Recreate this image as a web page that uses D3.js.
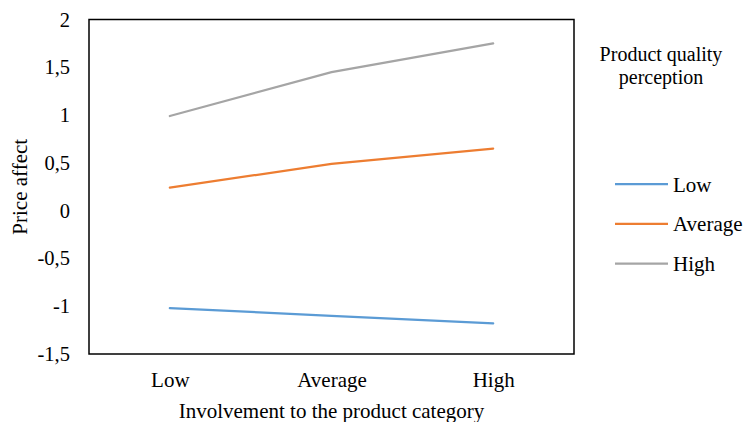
<!DOCTYPE html>
<html>
<head>
<meta charset="utf-8">
<script src="https://cdn.jsdelivr.net/npm/d3@7"></script>
<style>
  html, body { margin: 0; padding: 0; background: #fff; }
  svg { display: block; font-family: "Liberation Serif", "Times New Roman", serif; }
</style>
</head>
<body>
<svg id="chart" width="746" height="422"></svg>
<script>
// Involvement levels along the x axis
const categories = ["Low", "Average", "High"];
// Product quality perception groups
const seriesNames = ["Low", "Average", "High"];
const seriesColors = ["#5b9bd5", "#ed7d31", "#a5a5a5"];
// Price affect for each perception group, per involvement level
const lowValues = [-1.02, -1.10, -1.18];
const averageValues = [0.24, 0.49, 0.65];
const highValues = [0.99, 1.45, 1.75];
const yTicks = [-1.5, -1, -0.5, 0, 0.5, 1, 1.5, 2];

const series = [
  { name: seriesNames[0], color: seriesColors[0], values: lowValues },
  { name: seriesNames[1], color: seriesColors[1], values: averageValues },
  { name: seriesNames[2], color: seriesColors[2], values: highValues }
];

const fontSize = 21;
const svg = d3.select("#chart");
const plot = { left: 89, top: 19.5, right: 574, bottom: 354 };

const x = d3.scalePoint()
  .domain(categories)
  .range([plot.left, plot.right])
  .padding(0.5);

const y = d3.scaleLinear()
  .domain([-1.5, 2])
  .range([plot.bottom, plot.top]);

const locale = d3.formatLocale({ decimal: ",", thousands: " ", grouping: [3], currency: ["", ""], minus: "-" });
const fmt = locale.format("~g");

// Y axis labels
const yAxis = d3.axisLeft(y).tickValues(yTicks).tickFormat(fmt).tickSize(0).tickPadding(19);
const gy = svg.append("g").attr("transform", `translate(${plot.left},0)`).call(yAxis);
gy.select(".domain").remove();
gy.selectAll("text").attr("font-size", 20.5).attr("font-family", "Liberation Serif").attr("fill", "#000");

// X axis labels
const xAxis = d3.axisBottom(x).tickSize(0).tickPadding(0);
const gx = svg.append("g").attr("transform", `translate(0,${plot.bottom})`).call(xAxis);
gx.select(".domain").remove();
gx.selectAll("text")
  .attr("y", 33).attr("dy", 0)
  .attr("font-size", fontSize).attr("font-family", "Liberation Serif").attr("fill", "#000");

// Lines
const line = d3.line()
  .x((d, i) => x(categories[i]))
  .y(d => y(d));

svg.append("g").selectAll("path")
  .data(series)
  .join("path")
  .attr("d", d => line(d.values))
  .attr("fill", "none")
  .attr("stroke", d => d.color)
  .attr("stroke-width", 2.25)
  .attr("stroke-linecap", "round");

// Plot frame
svg.append("rect")
  .attr("x", plot.left)
  .attr("y", plot.top)
  .attr("width", plot.right - plot.left)
  .attr("height", plot.bottom - plot.top)
  .attr("fill", "none")
  .attr("stroke", "#000")
  .attr("stroke-width", 1.5);

// Axis titles
svg.append("text")
  .attr("x", (plot.left + plot.right) / 2)
  .attr("y", 418)
  .attr("text-anchor", "middle")
  .attr("font-size", fontSize)
  .text("Involvement to the product category");

svg.append("text")
  .attr("transform", `translate(27,${(plot.top + plot.bottom) / 2}) rotate(-90)`)
  .attr("text-anchor", "middle")
  .attr("font-size", fontSize)
  .text("Price affect");

// Legend
const legend = svg.append("g");
legend.append("text")
  .attr("x", 661)
  .attr("y", 61)
  .attr("text-anchor", "middle")
  .attr("font-size", 20)
  .text("Product quality");
legend.append("text")
  .attr("x", 661)
  .attr("y", 83.5)
  .attr("text-anchor", "middle")
  .attr("font-size", 20)
  .text("perception");

const legendY = d3.scalePoint().domain(seriesNames).range([184, 263.5]);
const items = legend.selectAll("g.item")
  .data(series)
  .join("g")
  .attr("class", "item")
  .attr("transform", d => `translate(0,${legendY(d.name)})`);
items.append("line")
  .attr("x1", 615).attr("x2", 668)
  .attr("y1", 0).attr("y2", 0)
  .attr("stroke", d => d.color)
  .attr("stroke-width", 2.25);
items.append("text")
  .attr("x", 673)
  .attr("y", 7.5)
  .attr("font-size", fontSize)
  .text(d => d.name);
</script>
</body>
</html>
